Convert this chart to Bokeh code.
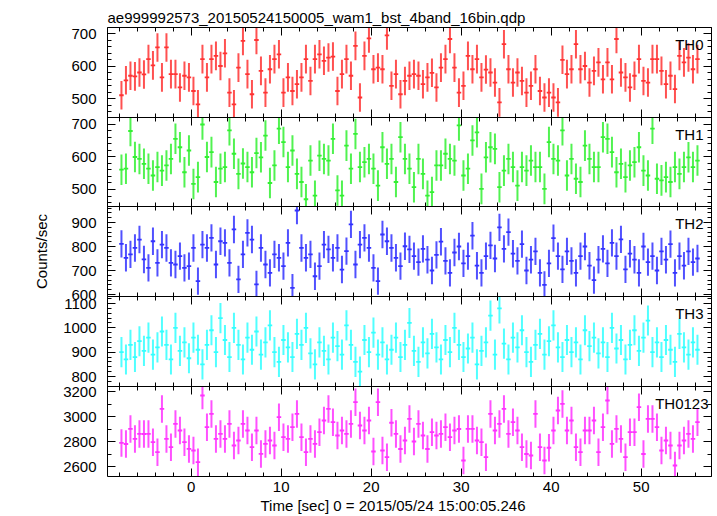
import numpy as np
from bokeh.plotting import figure
from bokeh.layouts import column
from bokeh.models import (Range1d, LinearAxis, SingleIntervalTicker, FixedTicker, Label,
                          ColumnDataSource, Title)
from bokeh.embed import file_html
from bokeh.resources import INLINE

TITLE = "ae999992573_20150524150005_wam1_bst_4band_16bin.qdp"
X_LABEL = "Time [sec] 0 = 2015/05/24 15:00:05.246"
Y_LABEL = "Counts/sec"
PANEL_NAMES = ["TH0", "TH1", "TH2", "TH3", "TH0123"]

T_START = -7.75   # centre of first 0.5 s bin
BIN = 0.5

TH0 = [511, 557, 571, 569, 581, 575, 622, 603, 658, 566,
       658, 576, 576, 535, 571, 566, 524, 483, 622, 566,
       622, 632, 601, 640, 519, 483, 596, 678, 576, 514,
       681, 586, 519, 591, 622, 637, 519, 566, 524, 545,
       566, 622, 555, 622, 637, 617, 627, 630, 524, 576,
       622, 571, 663, 504, 632, 686, 591, 596, 591, 695,
       540, 576, 514, 555, 571,
       576, 571, 545, 566, 580, 535, 596, 622, 684, 596,
       519, 540, 632, 591, 622, 566, 590, 581, 550, 489,
       668, 591, 550, 581, 555, 519, 540, 591, 524, 504,
       519, 504, 489, 620, 576, 591, 668, 591, 601, 550,
       586, 612, 560, 612, 560, 684, 581, 566, 535, 571,
       622, 555, 550, 622, 622, 586, 545, 571, 530, 632,
       612, 627, 591, 622]

TH1 = [561, 564, 680, 600, 594, 579, 564, 543, 569, 558,
       574, 594, 656, 630, 553, 620, 517, 538, 700, 600,
       615, 523, 564, 569, 682, 610, 548, 580, 569, 553,
       612, 599, 666, 520, 574, 687, 646, 569, 620, 548,
       523, 470, 589, 481, 604, 594, 589, 656, 497, 481,
       635, 564, 671, 569, 584, 594, 564, 512, 630, 579,
       594, 523, 661, 594, 564,
       507, 594, 548, 481, 492, 574, 574, 610, 594, 589,
       697, 543, 564, 651, 676, 502, 599, 630, 625, 507,
       558, 594, 569, 512, 569, 558, 589, 569, 569, 502,
       646, 594, 589, 682, 543, 594, 533, 523, 635, 594,
       569, 569, 661, 656, 615, 553, 579, 538, 574, 584,
       630, 558, 543, 687, 533, 528, 538, 523, 569, 548,
       569, 599, 569, 589]

TH2 = [811, 753, 767, 794, 829, 746, 711, 822, 732, 808,
       794, 732, 725, 760, 711, 718, 794, 656, 808, 794,
       836, 725, 822, 815, 732, 871, 663, 767, 857, 829,
       642, 794, 725, 690, 767, 753, 718, 815, 628, 950,
       794, 753, 767, 676, 718, 808, 788, 753, 794, 704,
       781, 892, 725, 808, 836, 794, 711, 656, 850, 822,
       794, 753, 718, 801, 788,
       760, 735, 790, 745, 700, 765, 820, 740, 690, 775,
       800, 730, 760, 845, 720, 690, 760, 805, 750, 880,
       790, 860, 770, 740, 810, 700, 745, 780, 690, 640,
       730, 835, 760, 705, 780, 740, 690, 760, 800, 720,
       660, 745, 790, 730, 815, 760, 830, 705, 770, 745,
       690, 800, 735, 760, 700, 780, 745, 810, 690, 760,
       720, 780, 735, 750]

TH3 = [900, 870, 930, 880, 945, 905, 960, 890, 920, 985,
       930, 870, 1000, 905, 940, 875, 960, 910, 850, 930,
       990, 900, 1040, 950, 880, 1000, 930, 870, 960, 910,
       985, 890, 940, 1010, 900, 860, 950, 920, 880, 975,
       930, 1000, 895, 850, 940, 905, 870, 960, 925, 890,
       1010, 930, 860, 820, 950, 900, 980, 890, 940, 870,
       910, 960, 880, 930, 1020, 905, 860, 940, 895, 975,
       920, 870, 950, 900, 1000, 930, 880, 915, 960, 850,
       905, 940, 1050, 890, 1080, 935, 870, 960, 920, 990,
       900, 860, 930, 975, 890, 945, 1010, 920, 880, 950,
       900, 940, 870, 990, 925, 960, 895, 940, 880, 1000,
       915, 950, 870, 930, 990, 905, 960, 1030, 900, 940,
       880, 950, 910, 860, 975, 920, 890, 940, 910]

TH0123 = [2789, 2780, 2901, 2821, 2861, 2860, 2861, 2795, 2715, 3061,
          2821, 2755, 2941, 2888, 2795, 2741, 2728, 2635, 3168, 2915,
          3021, 2821, 2861, 2821, 2941, 2768, 2808, 2941, 2888, 2755,
          2888, 2701, 2781, 2808, 2768, 2995, 2835, 2821, 2915, 3021,
          2835, 2715, 2821, 2781, 2875, 2968, 3061, 2955, 2848, 2888,
          2861, 2941, 3115, 2928,
          2888, 2968, 2720, 3115, 2728, 2675, 2950, 2861, 2740, 2808,
          2981, 2800, 2941, 2848, 2740, 2875, 2848, 2861, 2915, 2835,
          2888, 2900, 2648, 2901, 2901, 2808, 2795, 2675, 3021, 2888,
          2941, 3061, 2861, 2955, 2888, 2755, 2700, 2688, 3021, 2755,
          2648, 2750, 2888, 3048, 3101, 2888, 2968, 2755, 2715, 2888,
          2888, 2968, 2715, 2915, 3128, 2781, 2901, 2821, 2675, 2875,
          2875, 3075, 2700, 2981, 2981, 2915, 2728, 2808, 2768, 2608,
          2768, 2808, 2861, 2821, 2955]

ERR = [44, 47, 57, 62, 110]          # half-height of the error bars
SERIES = [TH0, TH1, TH2, TH3, TH0123]
Y_RANGES = [(442.5, 719.4), (447.7, 721.5), (591.7, 966.7), (758.9, 1128.8), (2520, 3240)]
Y_MAJOR = [100, 100, 100, 100, 200]
Y_MINOR = [20, 20, 20, 20, 100]
COLORS = ["#ff3333", "#33f033", "#3333ff", "#33ffff", "#ff33ff"]
X_LO, X_HI = -9.30, 57.81
X_MAJOR, X_MINOR = 10, 2

FONT = "Liberation Sans"
FS = "15px"
W = 717
PAD = 10
FRAME_H = [90, 89, 90, 90, 90]
TOPS = [27, PAD, PAD, PAD, PAD]
BOTTOMS = [PAD, PAD, PAD, PAD, 40]

x_range = Range1d(X_LO, X_HI)


def style_axis(ax, major_len, minor_len):
    ax.major_tick_in = major_len
    ax.major_tick_out = 0
    ax.minor_tick_in = minor_len
    ax.minor_tick_out = 0
    ax.axis_line_color = "black"
    ax.major_tick_line_color = "black"
    ax.minor_tick_line_color = "black"
    return ax


def labelled_axis(interval, minor):
    ax = LinearAxis(ticker=SingleIntervalTicker(interval=interval,
                                                num_minor_ticks=int(round(interval / minor))))
    style_axis(ax, 8, 4)
    ax.major_label_text_font = FONT
    ax.major_label_text_font_size = FS
    ax.major_label_text_color = "black"
    return ax


def bare_axes(lo, hi, interval, minor):
    """Two label-free axes on one side: long ticks at majors, short ticks at minors."""
    majors = list(np.arange(np.ceil(lo / interval) * interval, hi, interval))
    minors = list(np.arange(np.ceil(lo / minor) * minor, hi, minor))
    a1 = style_axis(LinearAxis(ticker=FixedTicker(ticks=[], minor_ticks=majors)), 0, 8)
    a2 = style_axis(LinearAxis(ticker=FixedTicker(ticks=[], minor_ticks=minors)), 0, 4)
    return [a1, a2]


figs = []
for i, vals in enumerate(SERIES):
    lo, hi = Y_RANGES[i]
    fh = FRAME_H[i]
    p = figure(width=W, height=TOPS[i] + fh + BOTTOMS[i], x_range=x_range, y_range=Range1d(lo, hi),
               output_backend="svg", toolbar_location=None,
               x_axis_location=None, y_axis_location=None,
               min_border_left=107, min_border_right=6,
               min_border_top=TOPS[i], min_border_bottom=BOTTOMS[i])
    p.grid.grid_line_color = None
    p.outline_line_color = None
    p.background_fill_alpha = 0
    p.border_fill_alpha = 0
    if i > 0:
        p.margin = (-2 * PAD, 0, 0, 0)

    left = labelled_axis(Y_MAJOR[i], Y_MINOR[i])
    left.major_label_standoff = 11
    p.add_layout(left, "left")
    for ax in bare_axes(lo, hi, Y_MAJOR[i], Y_MINOR[i]):
        p.add_layout(ax, "right")
    for ax in bare_axes(X_LO, X_HI, X_MAJOR, X_MINOR):
        p.add_layout(ax, "above")
    if i == 4:
        bottom = labelled_axis(X_MAJOR, X_MINOR)
        bottom.major_label_standoff = 5
        p.add_layout(bottom, "below")
    else:
        for ax in bare_axes(X_LO, X_HI, X_MAJOR, X_MINOR):
            p.add_layout(ax, "below")

    v = np.array(vals, dtype=float)
    t = T_START + BIN * np.arange(len(v))
    src = ColumnDataSource(dict(t=t, v=v, lo=v - ERR[i], hi=v + ERR[i],
                                t0=t - BIN / 2, t1=t + BIN / 2))
    p.segment(x0="t", y0="lo", x1="t", y1="hi", source=src, line_color=COLORS[i],
              line_width=2.0, line_alpha=0.85)
    p.segment(x0="t0", y0="v", x1="t1", y1="v", source=src, line_color=COLORS[i], line_width=1.8)

    upp = (hi - lo) / fh     # data units per pixel
    rx = 3 if i == 4 else 8
    p.add_layout(Label(x=X_HI - rx / 9.0, y=hi - 17 * upp, text=PANEL_NAMES[i],
                       text_align="right", text_baseline="alphabetic",
                       text_font=FONT, text_font_size=FS, text_color="black"))
    if i == 0:
        p.title = Title(text=TITLE, align="left", text_font=FONT, text_font_size=FS,
                        text_font_style="normal", text_color="black", standoff=4)
    if i == 2:
        p.add_layout(Title(text=Y_LABEL, align="center", offset=-8, text_font=FONT,
                           text_font_size=FS, text_font_style="normal", text_color="black",
                           standoff=38), "left")
    if i == 4:
        p.add_layout(Title(text=X_LABEL, align="left", offset=153, text_font=FONT,
                           text_font_size=FS, text_font_style="normal", text_color="black",
                           standoff=0), "below")
    figs.append(p)

layout = column(*figs, spacing=0)
open("out.html", "w").write(file_html(layout, INLINE))
